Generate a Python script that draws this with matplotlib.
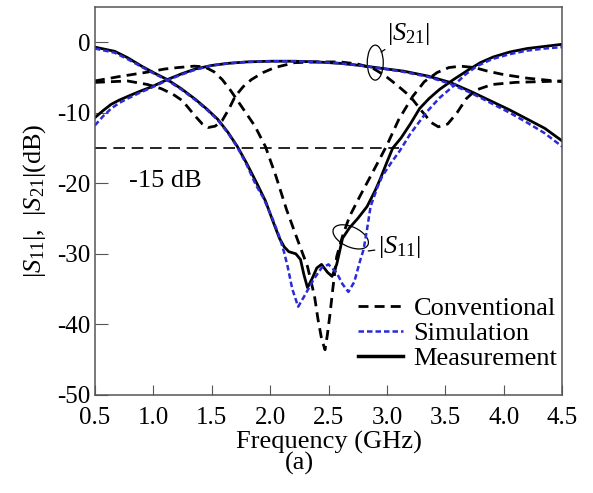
import matplotlib
matplotlib.use("Agg")
import matplotlib.pyplot as plt
from matplotlib.patches import Ellipse
from matplotlib.transforms import ScaledTranslation

plt.rcParams["font.family"] = ["Liberation Serif", "DejaVu Serif"]
plt.rcParams["mathtext.fontset"] = "custom"
plt.rcParams["mathtext.rm"] = "Liberation Serif"
plt.rcParams["mathtext.it"] = "Liberation Serif:italic"
plt.rcParams["axes.unicode_minus"] = False

# conventional design: deep S11 notch and S21 with two notches
conv_a_f = [0.5, 0.7, 0.93, 1.1, 1.21, 1.35, 1.44, 1.52, 1.59, 1.66, 1.73, 1.80, 1.87,
            1.96, 2.05, 2.14, 2.23, 2.32, 2.38, 2.41, 2.44, 2.47, 2.49, 2.51, 2.54,
            2.57, 2.62, 2.68, 2.77, 2.86, 2.94, 3.0, 3.1, 3.22, 3.32, 3.43, 3.53,
            3.63, 3.75, 3.86, 4.0, 4.2, 4.5]
conv_a_db = [-5.5, -4.9, -4.3, -3.8, -3.6, -3.4, -3.5, -4.2, -5.3, -6.8, -8.5, -10.2, -11.9,
             -14.8, -19.0, -23.7, -27.8, -31.8, -36.0, -39.3, -42.0, -43.6, -41.5, -38.9, -34.5,
             -30.4, -27.5, -24.7, -21.8, -19.0, -16.5, -14.6, -11.0, -7.7, -5.6, -4.3, -3.6,
             -3.4, -3.6, -4.1, -4.6, -5.1, -5.6]

conv_b_f = [0.5, 0.78, 0.95, 1.07, 1.17, 1.25, 1.36, 1.42, 1.47, 1.53, 1.59, 1.65, 1.7,
            1.77, 1.84, 1.94, 2.04, 2.21, 2.4, 2.6, 2.75, 2.88, 2.98, 3.08, 3.2, 3.3,
            3.38, 3.44, 3.52, 3.6, 3.68, 3.76, 3.9, 4.1, 4.5]
conv_b_db = [-5.7, -5.5, -6.0, -6.6, -7.4, -8.3, -10.5, -11.6, -12.1, -11.9, -11.1, -9.4, -7.7,
             -6.3, -5.3, -4.3, -3.6, -2.9, -2.8, -2.8, -3.1, -3.7, -4.7, -6.0, -7.7, -9.8,
             -11.4, -12.0, -11.6, -10.0, -8.0, -6.8, -6.0, -5.7, -5.5]

# proposed design: S21
s21_f = [0.5, 0.57, 0.64, 0.71, 0.78, 0.88, 0.99, 1.12, 1.24, 1.36, 1.5, 1.64, 1.8,
         2.0, 2.21, 2.4, 2.6, 2.77, 2.95, 3.14, 3.35, 3.54, 3.72, 3.91, 4.05, 4.2,
         4.35, 4.5]
s21_meas = [-10.7, -9.7, -8.8, -8.2, -7.7, -7.0, -6.3, -5.3, -4.5, -3.8, -3.3, -3.0, -2.8,
            -2.7, -2.7, -2.8, -3.0, -3.3, -3.7, -4.1, -4.8, -5.7, -7.0, -8.5, -9.6, -10.9,
            -12.2, -14.0]
s21_sim = [-11.8, -10.5, -9.4, -8.6, -8.0, -7.2, -6.4, -5.4, -4.6, -3.9, -3.3, -3.0, -2.8,
           -2.7, -2.7, -2.8, -3.0, -3.3, -3.7, -4.2, -4.9, -5.9, -7.2, -8.8, -10.0, -11.4,
           -12.9, -14.8]

# proposed design: S11
s11_meas_f = [0.5, 0.67, 0.78, 0.9, 1.0, 1.12, 1.24, 1.36, 1.46, 1.55, 1.64, 1.72, 1.8,
              1.88, 1.96, 2.02, 2.08, 2.12, 2.16, 2.22, 2.26, 2.29, 2.32, 2.36, 2.4,
              2.44, 2.49, 2.53, 2.57, 2.62, 2.68, 2.75, 2.83, 2.9, 2.94, 3.0, 3.05,
              3.12, 3.2, 3.28, 3.36, 3.45, 3.57, 3.7, 3.8, 3.91, 4.05, 4.2, 4.35, 4.5]
s11_meas = [-0.7, -1.3, -2.2, -3.4, -4.3, -5.3, -6.6, -8.1, -9.5, -10.9, -12.8, -14.8, -17.2,
            -19.8, -22.5, -25.2, -27.8, -29.0, -29.7, -30.0, -30.8, -33.0, -34.8, -33.5, -32.0,
            -31.5, -32.6, -33.2, -31.5, -27.8, -26.3, -25.0, -23.3, -21.0, -19.5, -17.0, -15.0,
            -13.6, -11.6, -9.4, -8.0, -6.7, -5.3, -3.9, -2.9, -2.1, -1.4, -0.9, -0.6, -0.3]

s11_sim_f = [0.5, 0.67, 0.78, 0.9, 1.0, 1.12, 1.24, 1.36, 1.46, 1.55, 1.64, 1.72, 1.8,
             1.88, 1.94, 2.02, 2.08, 2.12, 2.15, 2.19, 2.24, 2.3, 2.37, 2.44, 2.5, 2.57,
             2.62, 2.67, 2.72, 2.77, 2.8, 2.83, 2.86, 2.92, 2.96, 3.04, 3.11, 3.2,
             3.34, 3.45, 3.57, 3.67, 3.77, 3.9, 4.05, 4.2, 4.35, 4.5]
s11_sim = [-0.9, -1.5, -2.4, -3.5, -4.4, -5.4, -6.7, -8.2, -9.6, -11.0, -12.9, -14.9, -17.4,
           -20.3, -22.0, -25.0, -27.6, -29.8, -31.8, -35.0, -37.5, -35.8, -33.7, -32.0, -31.5, -32.7,
           -34.3, -35.4, -34.0, -31.0, -29.4, -26.5, -23.3, -20.5, -19.0, -17.0, -15.4, -13.0,
           -9.9, -7.9, -6.2, -4.6, -3.4, -2.4, -1.7, -1.2, -0.9, -0.7]

ref_level = -15
ref_f = [0.5, 3.1]
x_ticks = [0.5, 1.0, 1.5, 2.0, 2.5, 3.0, 3.5, 4.0, 4.5]
y_ticks = [-50, -40, -30, -20, -10, 0]

FS = 19
TICK_FS = 18
blue = "#2a2ad8"

fig = plt.figure(figsize=(5.93, 4.93), dpi=100)
ax = fig.add_axes([0.160, 0.199, 0.788, 0.787])

ax.plot(conv_a_f, conv_a_db, color="black", lw=2.0, ls=(0, (3.6, 2.2)), label="Conventional")
ax.plot(conv_b_f, conv_b_db, color="black", lw=2.0, ls=(0, (3.6, 2.2)))
ax.plot(s21_f, s21_meas, color="black", lw=2.0)
ax.plot(s11_meas_f, s11_meas, color="black", lw=2.0)
ax.plot(s21_f, s21_sim, color=blue, lw=1.8, ls=(0, (2.2, 1.2)), label="Simulation")
ax.plot(s11_sim_f, s11_sim, color=blue, lw=1.8, ls=(0, (2.2, 1.2)))
ax.plot([], [], color="black", lw=2.5, label="Measurement")
ax.plot(ref_f, [ref_level, ref_level], color="black", lw=1.2, ls=(0, (7, 4)))

ax.set_xlim(0.5, 4.5)
ax.set_ylim(-50, 5)
ax.set_xticks(x_ticks)
ax.set_xticklabels([f"{t:.1f}" for t in x_ticks])
ax.set_yticks(y_ticks)
ax.tick_params(axis="both", direction="in", labelsize=TICK_FS, color="#555555")
ax.tick_params(axis="y", length=9.5, pad=3)
ax.tick_params(axis="x", length=7, pad=9)
for sp in ax.spines.values():
    sp.set_color("#555555")
    sp.set_linewidth(1.1)

ax.set_xlabel("Frequency (GHz)", fontsize=FS, labelpad=1)
ax.set_ylabel(r"$|S_{11}|$,  $|S_{21}|$(dB)", fontsize=FS, labelpad=7)
fig.text(0.505, 0.060, "(a)", fontsize=FS, ha="center", va="center")

ax.text(0.79, -19.7, "-15 dB", fontsize=FS, va="center")

# ellipse markers sized in inches, placed in data coordinates
def mark(f, db, w, h, angle):
    tr = fig.dpi_scale_trans + ScaledTranslation(f, db, ax.transData)
    ax.add_patch(Ellipse((0, 0), w, h, angle=angle, fill=False, lw=0.9,
                         edgecolor="black", transform=tr))

mark(2.9, -2.9, 0.16, 0.35, 0)
mark(2.69, -27.6, 0.38, 0.2, -25)
ax.annotate(r"$|S_{21}|$", xy=(2.95, -1.4), xytext=(3.0, 1.2), fontsize=FS, va="center",
            arrowprops=dict(arrowstyle="-", lw=0.9, shrinkA=0, shrinkB=0))
ax.annotate(r"$|S_{11}|$", xy=(2.84, -29.6), xytext=(2.92, -29.0), fontsize=FS, va="center",
            arrowprops=dict(arrowstyle="-", lw=0.9, shrinkA=0, shrinkB=0))

ax.legend(loc="lower right", bbox_to_anchor=(0.99, 0.064), frameon=False, fontsize=FS,
          handlelength=1.7, handletextpad=0.4, labelspacing=0.05, borderpad=0,
          borderaxespad=0)

fig.savefig("out.png", dpi=100)
